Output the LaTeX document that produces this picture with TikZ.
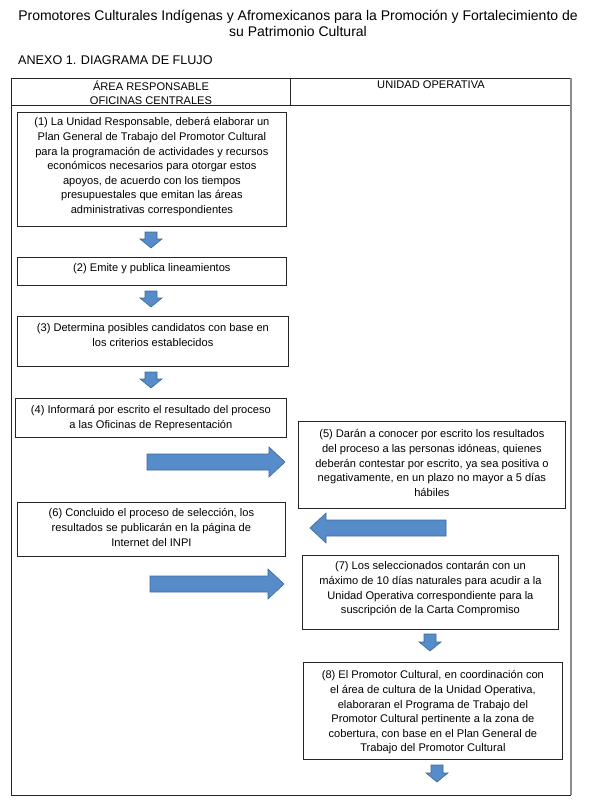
\documentclass[tikz,border=0pt]{standalone}
\usepackage{fontspec}
\setmainfont{Liberation Sans}
\begin{document}
\begin{tikzpicture}[x=1pt,y=-1pt,
  tbl/.style={line width=0.9pt,draw=black!85},
  box/.style={draw=black!85,line width=0.8pt,anchor=north west,inner sep=0pt},
  txt/.style={anchor=north,align=center,inner sep=0pt,font=\fontsize{11.1}{14.6}\selectfont},
  barrow/.style={fill={rgb,255:red,86;green,140;blue,202},draw={rgb,255:red,62;green,105;blue,150},line width=0.6pt,line join=miter}
]
\useasboundingbox (0,0) rectangle (590,810);
% right block arrow: (x1,yc) -> (x2,yc)
\newcommand{\rarrow}[3]{\path[barrow] (#1,#3-8) -- (#2-16,#3-8) -- (#2-16,#3-15) -- (#2,#3) -- (#2-16,#3+15) -- (#2-16,#3+8) -- (#1,#3+8) -- cycle;}
\newcommand{\larrow}[3]{\path[barrow] (#2,#3-8) -- (#1+16,#3-8) -- (#1+16,#3-15) -- (#1,#3) -- (#1+16,#3+15) -- (#1+16,#3+8) -- (#2,#3+8) -- cycle;}
\newcommand{\darrow}[3]{\path[barrow] (#1-6,#2) -- (#1+6,#2) -- (#1+6,#3-9) -- (#1+11,#3-9) -- (#1,#3) -- (#1-11,#3-9) -- (#1-6,#3-9) -- cycle;}

% titles
\node[anchor=base,font=\fontsize{14}{17}\selectfont,inner sep=0pt] (title) at (298,21) {Promotores Culturales Indígenas y Afromexicanos para la Promoción y Fortalecimiento de};
\node[anchor=base,font=\fontsize{14}{17}\selectfont,inner sep=0pt] (title2) at (298,37) {su Patrimonio Cultural};
\node[anchor=base west,font=\fontsize{12.6}{14}\selectfont,inner sep=0pt] (anexo) at (18,65) {ANEXO 1. DIAGRAMA DE FLUJO};

% table
\draw[tbl] (11,78) rectangle (571,105);
\draw[tbl] (290,78) -- (290,105);
\draw[tbl] (11,105) -- (11,795) -- (571,795);
\draw[line width=1.6pt,draw=black!45] (571,78) -- (571,795);
\node[txt] (h1) at (151,80.5) {ÁREA RESPONSABLE\\OFICINAS CENTRALES};
\node[txt] (h2) at (431,80.5) {UNIDAD OPERATIVA};

% boxes
\node[box,minimum width=269,minimum height=114] (b1) at (17,112) {};
\node[txt] (t1) at ([yshift=-5.5]b1.north) {(1) La Unidad Responsable, deberá elaborar un\\Plan General de Trabajo del Promotor Cultural\\para la programación de actividades y recursos\\económicos necesarios para otorgar estos\\apoyos, de acuerdo con los tiempos\\presupuestales que emitan las áreas\\administrativas correspondientes};

\node[box,minimum width=269,minimum height=28] (b2) at (17,257) {};
\node[txt] (t2) at ([yshift=-6.5]b2.north) {(2) Emite y publica lineamientos};

\node[box,minimum width=271,minimum height=50] (b3) at (17,316) {};
\node[txt] (t3) at ([yshift=-7.5]b3.north) {(3) Determina posibles candidatos con base en\\los criterios establecidos};

\node[box,minimum width=271,minimum height=39] (b4) at (15,398) {};
\node[txt] (t4) at ([yshift=-7.5]b4.north) {(4) Informará por escrito el resultado del proceso\\a las Oficinas de Representación};

\node[box,minimum width=267,minimum height=87] (b5) at (298,421) {};
\node[txt] (t5) at ([yshift=-8.5]b5.north) {(5) Darán a conocer por escrito los resultados\\del proceso a las personas idóneas, quienes\\deberán contestar por escrito, ya sea positiva o\\negativamente, en un plazo no mayor a 5 días\\hábiles};

\node[box,minimum width=268,minimum height=54] (b6) at (17,502) {};
\node[txt] (t6) at ([yshift=-6.5]b6.north) {(6) Concluido el proceso de selección, los\\resultados se publicarán en la página de\\Internet del INPI};

\node[box,minimum width=256,minimum height=74] (b7) at (302,555) {};
\node[txt] (t7) at ([yshift=-6.5]b7.north) {(7) Los seleccionados contarán con un\\máximo de 10 días naturales para acudir a la\\Unidad Operativa correspondiente para la\\suscripción de la Carta Compromiso};

\node[box,minimum width=259,minimum height=97] (b8) at (303,662) {};
\node[txt] (t8) at ([yshift=-8.5]b8.north) {(8) El Promotor Cultural, en coordinación con\\el área de cultura de la Unidad Operativa,\\elaboraran el Programa de Trabajo del\\Promotor Cultural pertinente a la zona de\\cobertura, con base en el Plan General de\\Trabajo del Promotor Cultural};

% block arrows
\darrow{151}{232}{248}
\darrow{151}{291}{307}
\darrow{151}{372}{388}
\rarrow{147}{285}{462}
\larrow{310}{446}{528}
\rarrow{150}{284}{584}
\darrow{430}{634}{651}
\darrow{437}{765}{782}
\end{tikzpicture}
\end{document}
